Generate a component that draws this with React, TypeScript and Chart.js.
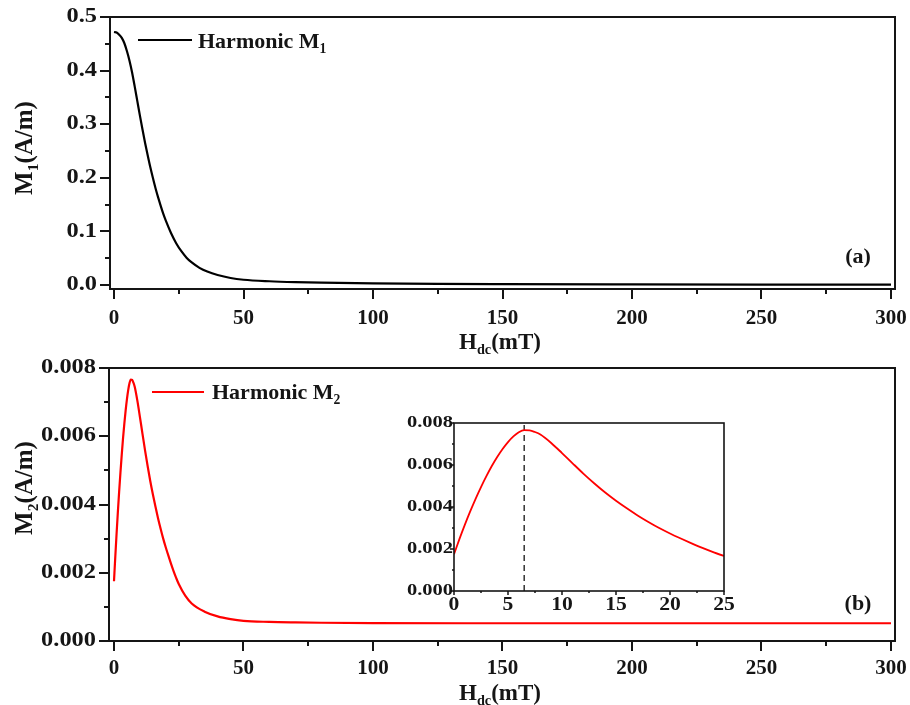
import React, { useEffect, useRef } from "react";
import { Chart, registerables } from "chart.js";

Chart.register(...registerables);

const FONT = '"Liberation Serif", "Times New Roman", serif';
const INK = "#151515";

// Panel (a): first harmonic M1 (A/m) against the bias field Hdc (mT)
const hdcM1 = [
  0, 1, 2, 3, 4, 5, 6, 7, 8, 9, 10, 11, 12, 13, 14, 15, 16, 17, 18, 19, 20,
  22, 24, 26, 28, 30, 33, 36, 40, 45, 50, 60, 70, 80, 100, 125, 150, 200, 250, 300,
];
const m1 = [
  0.472, 0.471, 0.467, 0.461, 0.451, 0.436, 0.418, 0.396, 0.37, 0.343, 0.316,
  0.29, 0.265, 0.242, 0.22, 0.2, 0.181, 0.164, 0.148, 0.133, 0.12,
  0.097, 0.078, 0.063, 0.051, 0.042, 0.032, 0.025, 0.0185, 0.013, 0.0098,
  0.007, 0.0054, 0.0044, 0.0031, 0.0022, 0.0017, 0.0011, 0.0008, 0.0006,
];

// Panel (b): second harmonic M2 (A/m) against Hdc (mT)
const hdcM2 = [
  0, 0.5, 1, 1.5, 2, 2.5, 3, 3.5, 4, 4.5, 5, 5.5, 6, 6.5, 7, 7.5, 8,
  9, 10, 11, 12, 13, 14, 15, 16, 17, 18, 19, 20, 21, 22, 23, 24, 25,
  27.5, 30, 35, 40, 45, 50, 60, 70, 80, 100, 150, 200, 250, 300,
];
const m2 = [
  0.00175, 0.00247, 0.00315, 0.00379, 0.00439, 0.00495, 0.00547, 0.00595, 0.00638,
  0.00676, 0.00709, 0.00736, 0.00756, 0.00766, 0.00765, 0.00757, 0.00745,
  0.00705, 0.00657, 0.00607, 0.00558, 0.00512, 0.00469, 0.0043, 0.00394,
  0.0036, 0.00329, 0.003, 0.00274, 0.0025, 0.00227, 0.00205, 0.00185, 0.00167,
  0.00133, 0.0011, 0.00086, 0.00072, 0.00064, 0.00059, 0.00056, 0.000545,
  0.000535, 0.000525, 0.00052, 0.00052, 0.00052, 0.00052,
];

// Field at which M2 peaks (dashed marker in the inset)
const peakHdc = 6.5;

// Tick values and labels
const hdcMajor = [0, 50, 100, 150, 200, 250, 300];
const hdcMinor = [25, 75, 125, 175, 225, 275];
const hdcLabels = ["0", "50", "100", "150", "200", "250", "300"];

const m1Major = [0, 0.1, 0.2, 0.3, 0.4, 0.5];
const m1Minor = [0.05, 0.15, 0.25, 0.35, 0.45];
const m1Labels = ["0.0", "0.1", "0.2", "0.3", "0.4", "0.5"];

const m2Major = [0, 0.002, 0.004, 0.006, 0.008];
const m2Minor = [0.001, 0.003, 0.005, 0.007];
const m2Labels = ["0.000", "0.002", "0.004", "0.006", "0.008"];

const insetMajor = [0, 5, 10, 15, 20, 25];
const insetMinor = [2.5, 7.5, 12.5, 17.5, 22.5];
const insetLabels = ["0", "5", "10", "15", "20", "25"];

type AxisDecor = {
  major: number[];
  minor: number[];
  labels: string[];
  majorLen: number;
  minorLen: number;
  size: number;
  stretch: number;
  offset: number;
};

type DecorOpts = {
  frameWidth: number;
  tickWidth: number;
  x: AxisDecor;
  y: AxisDecor;
};

// Draws the boxed frame, outward major/minor ticks and tick labels
const axisDecor = {
  id: "axisDecor",
  afterDatasetsDraw(chart: any, _args: any, opts: DecorOpts) {
    const { ctx, chartArea: a, scales } = chart;
    const xs = scales.x;
    const ys = scales.y;
    ctx.save();
    ctx.strokeStyle = INK;
    ctx.fillStyle = INK;
    ctx.lineWidth = opts.frameWidth;
    ctx.strokeRect(a.left, a.top, a.right - a.left, a.bottom - a.top);

    ctx.lineWidth = opts.tickWidth;
    ctx.beginPath();
    const xTick = (v: number, len: number) => {
      const p = Math.round(xs.getPixelForValue(v));
      ctx.moveTo(p, a.bottom);
      ctx.lineTo(p, a.bottom + len);
    };
    const yTick = (v: number, len: number) => {
      const p = Math.round(ys.getPixelForValue(v));
      ctx.moveTo(a.left, p);
      ctx.lineTo(a.left - len, p);
    };
    opts.x.major.forEach((v) => xTick(v, opts.x.majorLen));
    opts.x.minor.forEach((v) => xTick(v, opts.x.minorLen));
    opts.y.major.forEach((v) => yTick(v, opts.y.majorLen));
    opts.y.minor.forEach((v) => yTick(v, opts.y.minorLen));
    ctx.stroke();

    ctx.font = `bold ${opts.x.size}px ${FONT}`;
    ctx.textAlign = "center";
    ctx.textBaseline = "alphabetic";
    opts.x.major.forEach((v, i) => {
      ctx.save();
      ctx.translate(xs.getPixelForValue(v), a.bottom + opts.x.offset);
      ctx.scale(opts.x.stretch, 1);
      ctx.fillText(opts.x.labels[i], 0, 0);
      ctx.restore();
    });

    ctx.font = `bold ${opts.y.size}px ${FONT}`;
    ctx.textAlign = "right";
    ctx.textBaseline = "middle";
    opts.y.major.forEach((v, i) => {
      ctx.save();
      ctx.translate(a.left - opts.y.offset, ys.getPixelForValue(v));
      ctx.scale(opts.y.stretch, 1);
      ctx.fillText(opts.y.labels[i], 0, 0);
      ctx.restore();
    });
    ctx.restore();
  },
};

function makeConfig(p: {
  datasets: any[];
  xMin: number;
  xMax: number;
  yMin: number;
  yMax: number;
  yWidth: number;
  xHeight: number;
  padTop: number;
  padRight: number;
  decor: DecorOpts;
}): any {
  return {
    type: "line",
    data: { datasets: p.datasets },
    plugins: [axisDecor],
    options: {
      animation: false,
      responsive: false,
      devicePixelRatio: 1,
      parsing: false,
      events: [],
      layout: { padding: { left: 0, right: p.padRight, top: p.padTop, bottom: 0 } },
      elements: { point: { radius: 0 } },
      plugins: {
        legend: { display: false },
        tooltip: { enabled: false },
        axisDecor: p.decor,
      },
      scales: {
        x: {
          type: "linear",
          min: p.xMin,
          max: p.xMax,
          grid: { display: false },
          border: { display: false },
          ticks: { display: false },
          afterFit: (s: any) => {
            s.height = p.xHeight;
          },
        },
        y: {
          type: "linear",
          min: p.yMin,
          max: p.yMax,
          grid: { display: false },
          border: { display: false },
          ticks: { display: false },
          afterFit: (s: any) => {
            s.width = p.yWidth;
          },
        },
      },
    },
  };
}

const pts = (xs: number[], ys: number[]) => xs.map((x, i) => ({ x, y: ys[i] }));

const mainAxis = (y: Omit<AxisDecor, "majorLen" | "minorLen">): AxisDecor => ({
  ...y,
  majorLen: 10,
  minorLen: 5,
});

function Sub({ children }: { children: React.ReactNode }) {
  return (
    <span style={{ fontSize: "0.62em", position: "relative", top: "0.38em" }}>{children}</span>
  );
}

function Text(props: {
  x: number;
  y: number;
  size: number;
  anchor?: "center" | "left";
  rotate?: number;
  children: React.ReactNode;
}) {
  const { x, y, size, anchor = "center", rotate = 0, children } = props;
  const tx = anchor === "center" ? "-50%" : "0";
  return (
    <div
      style={{
        position: "absolute",
        left: x,
        top: y,
        fontSize: size,
        lineHeight: 1,
        whiteSpace: "nowrap",
        transform: `translate(${tx}, -50%) rotate(${rotate}deg)`,
        transformOrigin: anchor === "center" ? "50% 50%" : "0 50%",
      }}
    >
      {children}
    </div>
  );
}

export default function App() {
  const topRef = useRef<HTMLCanvasElement>(null);
  const botRef = useRef<HTMLCanvasElement>(null);
  const insetRef = useRef<HTMLCanvasElement>(null);

  useEffect(() => {
    const charts: Chart[] = [];

    charts.push(
      new Chart(
        topRef.current!,
        makeConfig({
          datasets: [
            {
              data: pts(hdcM1, m1),
              borderColor: "#000",
              borderWidth: 2.2,
              cubicInterpolationMode: "monotone",
            },
          ],
          xMin: -1.55,
          xMax: 301.55,
          yMin: -0.0075,
          yMax: 0.5,
          yWidth: 110,
          xHeight: 41,
          padTop: 17,
          padRight: 15,
          decor: {
            frameWidth: 2,
            tickWidth: 2,
            x: mainAxis({ major: hdcMajor, minor: hdcMinor, labels: hdcLabels, size: 21, stretch: 1, offset: 35 }),
            y: mainAxis({ major: m1Major, minor: m1Minor, labels: m1Labels, size: 20, stretch: 1.22, offset: 13 }),
          },
        })
      )
    );

    charts.push(
      new Chart(
        botRef.current!,
        makeConfig({
          datasets: [
            {
              data: pts(hdcM2, m2),
              borderColor: "#ff0000",
              borderWidth: 2.2,
              cubicInterpolationMode: "monotone",
            },
          ],
          xMin: -1.93,
          xMax: 301.55,
          yMin: 0,
          yMax: 0.008,
          yWidth: 109,
          xHeight: 64,
          padTop: 28,
          padRight: 15,
          decor: {
            frameWidth: 2,
            tickWidth: 2,
            x: mainAxis({ major: hdcMajor, minor: hdcMinor, labels: hdcLabels, size: 21, stretch: 1, offset: 33 }),
            y: mainAxis({ major: m2Major, minor: m2Minor, labels: m2Labels, size: 20, stretch: 1.22, offset: 13 }),
          },
        })
      )
    );

    charts.push(
      new Chart(
        insetRef.current!,
        makeConfig({
          datasets: [
            {
              data: pts(hdcM2, m2),
              borderColor: "#ff0000",
              borderWidth: 1.8,
              cubicInterpolationMode: "monotone",
            },
            {
              data: [
                { x: peakHdc, y: 0 },
                { x: peakHdc, y: m2Major[m2Major.length - 1] },
              ],
              borderColor: "#333",
              borderWidth: 1.5,
              borderDash: [6, 4],
            },
          ],
          xMin: 0,
          xMax: 25,
          yMin: 0,
          yMax: 0.008,
          yWidth: 54,
          xHeight: 24,
          padTop: 23,
          padRight: 21,
          decor: {
            frameWidth: 1.6,
            tickWidth: 1.5,
            x: { major: insetMajor, minor: insetMinor, labels: insetLabels, size: 18, stretch: 1.2, offset: 19, majorLen: 4, minorLen: 2 },
            y: { major: m2Major, minor: m2Minor, labels: m2Labels, size: 16, stretch: 1.28, offset: 1, majorLen: 4, minorLen: 2 },
          },
        })
      )
    );

    return () => charts.forEach((c) => c.destroy());
  }, []);

  const canvasStyle = (left: number, top: number, w: number, h: number): React.CSSProperties => ({
    position: "absolute",
    left,
    top,
    width: w,
    height: h,
  });

  return (
    <div
      style={{
        position: "fixed",
        left: 0,
        top: 0,
        width: 910,
        height: 705,
        background: "#fff",
        overflow: "hidden",
        fontFamily: FONT,
        fontWeight: "bold",
        color: INK,
      }}
    >
      <canvas ref={topRef} width={910} height={330} style={canvasStyle(0, 0, 910, 330)} />
      <canvas ref={botRef} width={910} height={365} style={canvasStyle(0, 340, 910, 365)} />
      <canvas ref={insetRef} width={345} height={215} style={canvasStyle(400, 400, 345, 215)} />

      {/* panel (a) */}
      <div style={{ position: "absolute", left: 138, top: 39, width: 54, height: 2, background: "#000" }} />
      <Text x={198} y={41} size={22} anchor="left">
        Harmonic M<Sub>1</Sub>
      </Text>
      <Text x={858} y={256} size={22}>
        (a)
      </Text>
      <Text x={500} y={341} size={23}>
        H<Sub>dc</Sub>(mT)
      </Text>
      <Text x={23} y={148} size={25} rotate={-90}>
        M<Sub>1</Sub>(A/m)
      </Text>

      {/* panel (b) */}
      <div style={{ position: "absolute", left: 152, top: 391, width: 52, height: 2, background: "#ff0000" }} />
      <Text x={212} y={392} size={22} anchor="left">
        Harmonic M<Sub>2</Sub>
      </Text>
      <Text x={858} y={603} size={22}>
        (b)
      </Text>
      <Text x={500} y={692} size={23}>
        H<Sub>dc</Sub>(mT)
      </Text>
      <Text x={23} y={488} size={25} rotate={-90}>
        M<Sub>2</Sub>(A/m)
      </Text>
    </div>
  );
}
